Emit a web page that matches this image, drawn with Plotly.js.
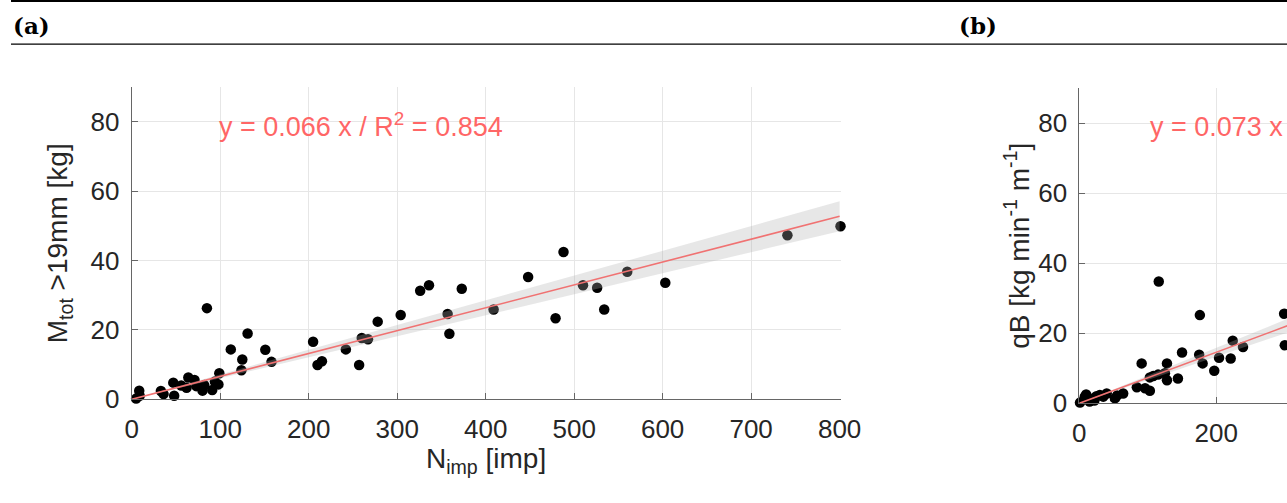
<!DOCTYPE html>
<html>
<head>
<meta charset="utf-8">
<script src="https://cdn.plot.ly/plotly-3.0.1.min.js"></script>
<style>
  html, body { margin: 0; padding: 0; background: #ffffff; overflow: hidden; }
  #chart { width: 1287px; height: 503px; }
</style>
</head>
<body>
<div id="chart"></div>
<script>
// ---------- Panel (a): M_tot >19mm vs N_imp ----------
const nImpA = [5, 8.5, 9, 33, 36, 47, 48, 56, 64, 62, 71, 73, 80, 82, 85, 91, 94, 98, 99,
  112, 131, 125, 124, 151, 158, 205, 210, 215, 242, 257, 260, 267, 278, 304, 326, 336,
  373, 357, 359, 409, 448, 479, 488, 510, 526, 534, 560, 603, 741, 801];
const mTotA = [0.2, 2.5, 1.0, 2.4, 1.5, 4.8, 1.0, 4.0, 6.3, 3.3, 5.6, 3.8, 2.5, 4.1, 26.3, 2.7, 5.1, 4.3, 7.5,
  14.4, 19.0, 11.5, 8.4, 14.3, 10.8, 16.6, 9.9, 11.0, 14.4, 9.9, 17.7, 17.3, 22.4, 24.3, 31.3, 32.9,
  31.9, 24.6, 18.9, 25.9, 35.3, 23.4, 42.5, 32.9, 32.2, 25.9, 36.8, 33.6, 47.3, 49.9];
const fitXA = [0, 800];
const fitYA = [0, 52.8];
const bandUpA = [0, 57.1];
const bandLoA = [0, 48.5];
const fitLabelA = 'y = 0.066 x / R<sup>2</sup> = 0.854';

// ---------- Panel (b): qB vs N_imp (cut at right edge) ----------
const nImpB = [1, 8, 10, 15, 20, 25, 30, 35, 40, 22, 52, 55, 64, 84, 91, 96, 103, 103, 108, 115,
  116, 125, 128, 128, 144, 150, 175, 176, 180, 197, 204, 221, 224, 239, 299, 300];
const qBB = [0.2, 1.9, 2.5, 0.5, 1.4, 2.0, 2.4, 1.9, 2.8, 0.8, 1.4, 2.2, 2.8, 4.6, 11.4, 4.3, 3.6, 7.4, 7.8, 8.2,
  34.8, 8.6, 6.6, 11.4, 7.1, 14.5, 13.9, 25.2, 11.4, 9.3, 13.0, 12.8, 17.9, 16.1, 25.6, 16.6];
const fitXB = [0, 310];
const fitYB = [0, 22.6];
const bandUpB = [0, 24.6];
const bandLoB = [0, 20.6];
const fitLabelB = 'y = 0.073 x';

// ---------- Tick / axis labels ----------
const yTicks = [0, 20, 40, 60, 80];
const xTicksA = [0, 100, 200, 300, 400, 500, 600, 700, 800];
const xTicksB = [0, 200];
const xTitleA = 'N<sub>imp</sub> [imp]';
const yTitleA = 'M<sub>tot</sub> &gt;19mm [kg]';
const yTitleB = 'qB [kg min<sup>-1</sup> m<sup>-1</sup>]';
const panelLabels = ['(a)', '(b)'];

// ---------- styling ----------
const W = 1287, H = 503;
const FONT = 'Liberation Sans, Arial, Helvetica, sans-serif';
const AX = '#262626';
const LINEC = '#666666';
const GRID = '#e6e6e6';
const RED = '#ff6666';
const FITC = '#f07272';
const BAND = 'rgba(176,176,176,0.30)';

function bandPoly(xs, up, lo) {
  return {
    x: xs.concat(xs.slice().reverse()),
    y: up.concat(lo.slice().reverse())
  };
}

const bA = bandPoly(fitXA, bandUpA, bandLoA);
const bB = bandPoly(fitXB, bandUpB, bandLoB);

const traces = [
  { x: nImpA, y: mTotA, xaxis: 'x', yaxis: 'y', type: 'scatter', mode: 'markers',
    marker: { color: '#000000', size: 10.5 }, cliponaxis: false, hoverinfo: 'x+y' },
  { x: bA.x, y: bA.y, xaxis: 'x', yaxis: 'y', type: 'scatter', mode: 'lines',
    fill: 'toself', fillcolor: BAND, line: { width: 0 }, hoverinfo: 'skip' },
  { x: fitXA, y: fitYA, xaxis: 'x', yaxis: 'y', type: 'scatter', mode: 'lines',
    line: { color: FITC, width: 1.6 }, hoverinfo: 'skip' },

  { x: nImpB, y: qBB, xaxis: 'x2', yaxis: 'y2', type: 'scatter', mode: 'markers',
    marker: { color: '#000000', size: 10.5 }, cliponaxis: false, hoverinfo: 'x+y' },
  { x: bB.x, y: bB.y, xaxis: 'x2', yaxis: 'y2', type: 'scatter', mode: 'lines',
    fill: 'toself', fillcolor: BAND, line: { width: 0 }, hoverinfo: 'skip' },
  { x: fitXB, y: fitYB, xaxis: 'x2', yaxis: 'y2', type: 'scatter', mode: 'lines',
    line: { color: FITC, width: 1.6 }, hoverinfo: 'skip' }
];

function axisCommon() {
  return {
    showline: true, linecolor: LINEC, linewidth: 1,
    showgrid: true, gridcolor: GRID, gridwidth: 1,
    zeroline: false,
    ticks: 'inside', ticklen: 6, tickwidth: 1, tickcolor: LINEC,
    tickfont: { family: FONT, size: 26, color: AX },
    tickmode: 'array',
    fixedrange: true
  };
}

const layout = {
  width: W, height: H,
  margin: { l: 0, r: 0, t: 0, b: 0, pad: 0 },
  paper_bgcolor: '#ffffff', plot_bgcolor: '#ffffff',
  showlegend: false,
  font: { family: FONT, color: AX },
  xaxis: Object.assign(axisCommon(), {
    domain: [131.7 / W, 840.5 / W], range: [0, 801], anchor: 'y',
    tickvals: xTicksA, ticktext: xTicksA.map(String), ticklabelstandoff: 6,
    title: { text: xTitleA, font: { family: FONT, size: 28, color: AX }, standoff: 4 }
  }),
  yaxis: Object.assign(axisCommon(), {
    domain: [(H - 399.3) / H, (H - 87.3) / H], range: [0, 90], anchor: 'x',
    tickvals: yTicks, ticktext: yTicks.map(String), ticklabelstandoff: 6,
    title: { text: yTitleA, font: { family: FONT, size: 28, color: AX }, standoff: 14 }
  }),
  xaxis2: Object.assign(axisCommon(), {
    domain: [1079.3 / W, 1], range: [0, (W - 1079.3) / 0.685], anchor: 'y2',
    tickvals: xTicksB, ticktext: xTicksB.map(String), ticklabelstandoff: 6
  }),
  yaxis2: Object.assign(axisCommon(), {
    domain: [(H - 403.3) / H, (H - 88.3) / H], range: [0, 90], anchor: 'x2',
    tickvals: yTicks, ticktext: yTicks.map(String), ticklabelstandoff: 6,
    title: { text: yTitleB, font: { family: FONT, size: 28, color: AX }, standoff: 0 }
  }),
  shapes: [
    { type: 'line', xref: 'paper', yref: 'paper', x0: 11 / W, x1: 1, y0: (H - 1) / H, y1: (H - 1) / H,
      line: { color: '#000000', width: 2 } },
    { type: 'line', xref: 'paper', yref: 'paper', x0: 11 / W, x1: 1, y0: (H - 44.2) / H, y1: (H - 44.2) / H,
      line: { color: '#000000', width: 1.3 } }
  ],
  annotations: [
    { text: '<b>' + panelLabels[0] + '</b>', xref: 'paper', yref: 'paper', x: 11 / W, y: (H - 26) / H,
      xanchor: 'left', yanchor: 'middle', showarrow: false,
      font: { family: 'DejaVu Serif, serif', size: 23, color: '#000000' } },
    { text: '<b>' + panelLabels[1] + '</b>', xref: 'paper', yref: 'paper', x: 957 / W, y: (H - 26) / H,
      xanchor: 'left', yanchor: 'middle', showarrow: false,
      font: { family: 'DejaVu Serif, serif', size: 23, color: '#000000' } },
    { text: fitLabelA, xref: 'x', yref: 'y', x: 259, y: 79, xanchor: 'center', yanchor: 'middle',
      showarrow: false, font: { family: FONT, size: 27, color: RED } },
    { text: fitLabelB, xref: 'x2', yref: 'y2', x: (1148 - 1079.3) / 0.685, y: 79, xanchor: 'left', yanchor: 'middle',
      showarrow: false, font: { family: FONT, size: 27, color: RED } }
  ]
};

Plotly.newPlot('chart', traces, layout, { staticPlot: true, displayModeBar: false });
</script>
</body>
</html>
